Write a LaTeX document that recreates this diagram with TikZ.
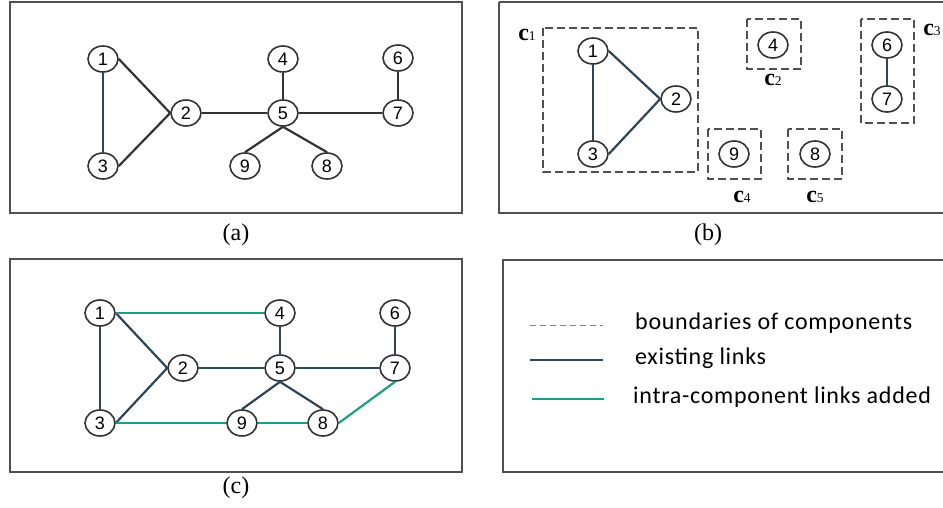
\documentclass[tikz,border=0pt]{standalone}
\usepackage{fontspec}
\setmainfont{Liberation Serif}
\newfontfamily\seriffont{Liberation Serif}
\newfontfamily\nodefont{Liberation Sans}
\newfontfamily\legendfont[LetterSpace=3]{Carlito}
\usetikzlibrary{shapes.geometric}
\definecolor{exlink}{HTML}{2E4557}
\definecolor{graylink}{HTML}{333333}
\definecolor{addlink}{HTML}{1E9E82}
\definecolor{framec}{HTML}{505050}
\tikzset{
  gnode/.style={ellipse, draw=black!80, line width=1.6pt, fill=white, minimum width=30pt, minimum height=26pt, inner sep=0pt, font=\nodefont\fontsize{18}{18}\selectfont},
  panel/.style={draw=framec, line width=1.3pt},
  exedge/.style={draw=exlink, line width=2.2pt},
  grayedge/.style={draw=graylink, line width=2.2pt},
  addedge/.style={draw=addlink, line width=2.2pt},
  compbox/.style={draw=framec, line width=1.3pt, dash pattern=on 8pt off 4pt},
  caption/.style={font=\seriffont\fontsize{24}{24}\selectfont},
  clabel/.style={inner sep=0pt},
}
\newcommand{\clab}[1]{{\seriffont\fontsize{24}{24}\selectfont\bfseries c}{\seriffont\fontsize{13.5}{13.5}\selectfont #1}}
\begin{document}
\begin{tikzpicture}[x=1pt,y=-1pt]
\useasboundingbox (0,0) rectangle (943,508);
% ---------------- panel (a)
\draw[panel] (10,2) rectangle (462,213);
\node[caption] (capa) at (236,235) {(a)};
\node[gnode] (a1) at (103,59) {1};
\node[gnode] (a2) at (186,113) {2};
\node[gnode] (a3) at (103,166) {3};
\node[gnode] (a4) at (283,59) {4};
\node[gnode] (a5) at (283,113) {5};
\node[gnode] (a6) at (398,58) {6};
\node[gnode] (a7) at (398,113) {7};
\node[gnode] (a9) at (245,166) {9};
\node[gnode] (a8) at (327,166) {8};
\draw[exedge] (a1) -- (a3);
\draw[grayedge] (a1.east) -- (a2.west);
\draw[grayedge] (a3.east) -- (a2.west);
\draw[grayedge] (a2) -- (a5);
\draw[grayedge] (a4) -- (a5);
\draw[grayedge] (a5) -- (a7);
\draw[grayedge] (a6) -- (a7);
\draw[grayedge] (a5.south) -- (a9.north);
\draw[grayedge] (a5.south) -- (a8.north);
% ---------------- panel (b)
\draw[panel] (499,2) -- (950,2) (499,2) -- (499,213) -- (950,213);
\node[caption] (capb) at (708,235) {(b)};
\draw[compbox] (543,28) rectangle (698,172);
\draw[compbox] (747,19) rectangle (801,69);
\draw[compbox] (861,19) rectangle (914,123);
\draw[compbox] (708,129) rectangle (761,179);
\draw[compbox] (788,129) rectangle (842,179);
\node[clabel] (c1) at (527,35) {\clab{1}};
\node[clabel] (c2) at (773,80) {\clab{2}};
\node[clabel] (c3) at (932,30) {\clab{3}};
\node[clabel] (c4) at (742,197) {\clab{4}};
\node[clabel] (c5) at (815,197) {\clab{5}};
\node[gnode] (b1) at (593,51) {1};
\node[gnode] (b2) at (676,99) {2};
\node[gnode] (b3) at (593,154) {3};
\node[gnode] (b4) at (773,45) {4};
\node[gnode] (b6) at (887,45) {6};
\node[gnode] (b7) at (887,99) {7};
\node[gnode] (b9) at (734,154) {9};
\node[gnode] (b8) at (815,154) {8};
\draw[exedge] (b1) -- (b3);
\draw[exedge] (b1.east) -- (b2.west);
\draw[exedge] (b3.east) -- (b2.west);
\draw[exedge] (b6) -- (b7);
% ---------------- panel (c)
\draw[panel] (10,259) rectangle (462,472);
\node[caption] (capc) at (236,488) {(c)};
\node[gnode] (n1) at (100,313) {1};
\node[gnode] (n4) at (280,313) {4};
\node[gnode] (n6) at (395,313) {6};
\node[gnode] (n2) at (183,368) {2};
\node[gnode] (n5) at (280,368) {5};
\node[gnode] (n7) at (395,368) {7};
\node[gnode] (n3) at (100,423) {3};
\node[gnode] (n9) at (242,423) {9};
\node[gnode] (n8) at (323,423) {8};
\draw[exedge] (n1) -- (n3);
\draw[exedge] (n1.east) -- (n2.west);
\draw[exedge] (n3.east) -- (n2.west);
\draw[exedge] (n2) -- (n5);
\draw[exedge] (n4) -- (n5);
\draw[exedge] (n6) -- (n7);
\draw[exedge] (n5) -- (n7);
\draw[exedge] (n5.south) -- (n9.north);
\draw[exedge] (n5.south) -- (n8.north);
\draw[addedge] (n1.east) -- (n4.west);
\draw[addedge] (n3.east) -- (n9.west);
\draw[addedge] (n9) -- (n8);
\draw[addedge] (n8.east) -- (n7.south);
% ---------------- legend
\draw[panel] (950,260) -- (503,260) -- (503,472) -- (950,472);
\coordinate (l1a) at (530,325); \coordinate (l1b) at (603,325);
\coordinate (l2a) at (530,360); \coordinate (l2b) at (603,360);
\coordinate (l3a) at (532,399); \coordinate (l3b) at (604,399);
\draw[draw=gray, line width=0.8pt, dash pattern=on 6pt off 4pt] (l1a) -- (l1b);
\draw[exedge] (l2a) -- (l2b);
\draw[addedge] (l3a) -- (l3b);
\tikzset{legtext/.style={anchor=base west, inner sep=0pt, font=\legendfont\fontsize{24}{24}\selectfont}}
\node[legtext] (t1) at (635,329) {boundaries of components};
\node[legtext] (t2) at (635,364) {existing links};
\node[legtext] (t3) at (633,403) {intra-component links added};
\end{tikzpicture}
\end{document}
